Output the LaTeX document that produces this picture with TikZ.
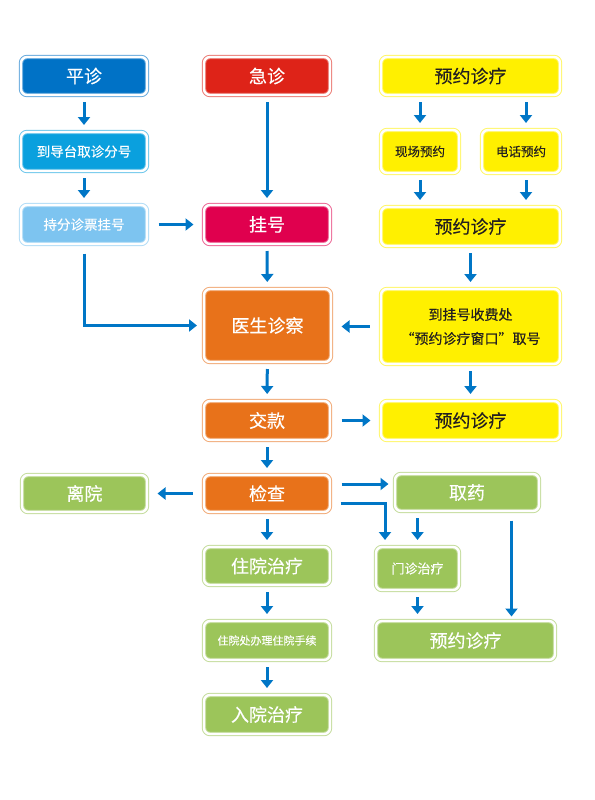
\documentclass[tikz,border=0pt]{standalone}
\usepackage{fontspec}
\setmainfont{Noto Sans CJK SC}[FakeBold = 0.3]
\usetikzlibrary{arrows.meta}

\definecolor{pzblue}{RGB}{0,114,198}
\definecolor{midblue}{RGB}{10,160,222}
\definecolor{paleblue}{RGB}{125,196,240}
\definecolor{jzred}{RGB}{222,35,24}
\definecolor{ghred}{RGB}{224,0,78}
\definecolor{yyyellow}{RGB}{255,240,0}
\definecolor{ysorange}{RGB}{232,114,26}
\definecolor{lygreen}{RGB}{156,197,90}
\definecolor{flowblue}{RGB}{0,118,198}
\definecolor{darktext}{RGB}{35,31,32}

\tikzset{
  box/.style = {draw = #1!60, fill = #1, double = white,
                double distance = 2.4pt, line width = 1pt,
                rounded corners = 6pt, inner sep = 0pt,
                text = white, align = center},
  ybox/.style = {box = yyyellow, text = darktext},
  big/.style = {font = \fontsize{18}{20}\selectfont},
  mid/.style = {font = \fontsize{13.5}{20}\selectfont},
  flow/.style = {draw = flowblue, line width = 3pt,
                 -{Triangle[width = 12pt, length = 8pt]},
                 shorten < = 6.5pt, shorten > = 6.5pt},
  hflow/.style = {flow, shorten < = 11pt, shorten > = 10pt}
}

\begin{document}
\begin{tikzpicture}[x = 1pt, y = -1pt]
  \useasboundingbox (0,0) rectangle (594,800);

  % left column
  \node [box = pzblue, big, minimum width = 126pt, minimum height = 38pt]
    (pz) at (84,76) {平诊};
  \node [box = midblue, mid, minimum width = 126pt, minimum height = 39pt]
    (dd) at (84,151.5) {到导台取诊分号};
  \node [box = paleblue, mid, minimum width = 126pt, minimum height = 39pt]
    (cf) at (84,224.5) {持分诊票挂号};
  \node [box = lygreen, big, minimum width = 125pt, minimum height = 37pt]
    (ly) at (84.5,493.5) {离院};

  % middle column
  \node [box = jzred, big, minimum width = 126pt, minimum height = 38pt]
    (jz) at (267,76) {急诊};
  \node [box = ghred, big, minimum width = 126pt, minimum height = 39pt]
    (gh) at (267,224.5) {挂号};
  \node [box = ysorange, big, minimum width = 127pt, minimum height = 73pt]
    (ys) at (267.5,325.5) {医生诊察};
  \node [box = ysorange, big, minimum width = 126pt, minimum height = 39pt]
    (jk) at (267,420.5) {交款};
  \node [box = ysorange, big, minimum width = 126pt, minimum height = 37pt]
    (jc) at (267,493.5) {检查};
  \node [box = lygreen, big, minimum width = 126pt, minimum height = 38pt]
    (zy) at (267,566) {住院治疗};
  \node [box = lygreen, font = \fontsize{11}{14}\selectfont,
         minimum width = 126pt, minimum height = 39pt]
    (zb) at (267,640.5) {住院处办理住院手续};
  \node [box = lygreen, big, minimum width = 126pt, minimum height = 39pt]
    (ry) at (267,714.5) {入院治疗};

  % right column
  \node [ybox, big, minimum width = 179pt, minimum height = 38pt]
    (yy1) at (470.5,76) {预约诊疗};
  \node [ybox, font = \fontsize{12.5}{16}\selectfont,
         minimum width = 78pt, minimum height = 43pt]
    (xc) at (420,151.5) {现场预约};
  \node [ybox, font = \fontsize{12.5}{16}\selectfont,
         minimum width = 78pt, minimum height = 43pt]
    (dh) at (521,151.5) {电话预约};
  \node [ybox, big, minimum width = 179pt, minimum height = 39pt]
    (yy2) at (470.5,226.5) {预约诊疗};
  \node [ybox, font = \fontsize{14}{24}\selectfont,
         minimum width = 179pt, minimum height = 75pt]
    (qh) at (470.5,326.5) {到挂号收费处\\“预约诊疗窗口”取号};
  \node [ybox, big, minimum width = 179pt, minimum height = 39pt]
    (yy3) at (470.5,420.5) {预约诊疗};
  \node [box = lygreen, big, minimum width = 144pt, minimum height = 37pt]
    (qy) at (467,492.5) {取药};
  \node [box = lygreen, font = \fontsize{13}{16}\selectfont,
         minimum width = 83pt, minimum height = 43pt]
    (mz) at (417.5,568.5) {门诊治疗};
  \node [box = lygreen, big, minimum width = 179pt, minimum height = 39pt]
    (yy4) at (465.5,640.5) {预约诊疗};

  % connectors
  \draw [flow] (pz) -- (dd);
  \draw [flow] (dd) -- (cf);
  \draw [hflow] (cf) -- (gh);
  \draw [flow] (jz) -- (gh);
  \draw [flow, shorten < = 9pt] (cf.south) |- (ys.west);
  \draw [flow] (gh) -- (ys);
  \draw [flow] (yy1.south -| xc.north) -- (xc.north);
  \draw [flow] ([xshift = 5pt]yy1.south -| dh.north)
    -- ([xshift = 5pt]dh.north);
  \draw [flow] (xc.south) -- (xc.south |- yy2.north);
  \draw [flow] ([xshift = 5pt]dh.south) -- ([xshift = 5pt]dh.south |- yy2.north);
  \draw [flow] (yy2) -- (qh);
  \draw [hflow] (qh.west) -- (qh.west -| ys.east);
  \draw [flow] (ys) -- (jk);
  \draw [flow] (qh) -- (yy3);
  \draw [hflow] (jk) -- (yy3);
  \draw [flow] (jk) -- (jc);
  \draw [hflow] (jc) -- (ly);
  \draw [hflow, shorten > = 6pt] ([yshift = 9.5pt]jc.east)
    -- ([yshift = 8.5pt]qy.west);
  \draw [flow, shorten < = 10pt] ([yshift = -9.5pt]jc.east)
    -| ([xshift = -32.5pt]mz.north);
  \draw [flow] (qy.south -| mz.north) -- (mz.north);
  \draw [flow] (mz.south) -- (mz.south |- yy4.north);
  \draw [flow, shorten < = 9pt, shorten > = 4pt] ([xshift = -28pt]qy.south east)
    -- ([xshift = -28pt]qy.south east |- yy4.north);
  \draw [flow] (jc) -- (zy);
  \draw [flow] (zy) -- (zb);
  \draw [flow] (zb) -- (ry);
\end{tikzpicture}
\end{document}
